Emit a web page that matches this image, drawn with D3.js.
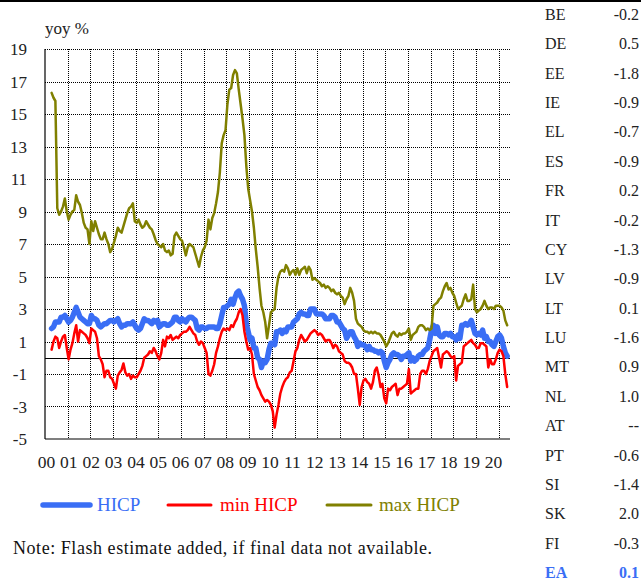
<!DOCTYPE html>
<html>
<head>
<meta charset="utf-8">
<script src="https://cdn.jsdelivr.net/npm/d3@7"></script>
<style>
  html, body { margin: 0; padding: 0; background: #fff; }
  svg { display: block; font-family: "Liberation Serif", "Times New Roman", serif; }
</style>
</head>
<body>
<svg id="chart" width="641" height="585"></svg>
<script>
// monthly yoy %, first observation April 2000, last May 2020
const startYear = 2000;
const startMonth = 4;

const hicp = [
  1.8, 1.9, 2.2, 2.2, 2.2, 2.5, 2.5, 2.6, 2.4,                 // 2000 (Apr-Dec)
  2.2, 2.3, 2.5, 2.8, 3.1, 2.8, 2.5, 2.4, 2.3, 2.2, 2.1, 2.1,  // 2001
  2.6, 2.4, 2.4, 2.3, 2.0, 1.9, 2.0, 2.1, 2.1, 2.2, 2.3, 2.3,  // 2002
  2.2, 2.3, 2.4, 2.1, 1.9, 2.0, 2.0, 2.1, 2.1, 2.1, 2.2, 2.0,  // 2003
  1.8, 1.7, 1.8, 2.1, 2.4, 2.3, 2.3, 2.2, 2.1, 2.3, 2.2, 2.3,  // 2004
  1.9, 2.0, 2.1, 2.1, 2.0, 2.0, 2.1, 2.2, 2.5, 2.5, 2.3, 2.2,  // 2005
  2.4, 2.3, 2.2, 2.4, 2.5, 2.5, 2.4, 2.3, 1.8, 1.7, 1.9, 1.9,  // 2006
  1.8, 1.8, 1.9, 1.9, 1.9, 1.9, 1.8, 1.8, 2.1, 2.6, 3.1, 3.1,  // 2007
  3.2, 3.3, 3.6, 3.3, 3.7, 4.0, 4.1, 3.8, 3.6, 3.2, 2.1, 1.6,  // 2008
  1.1, 1.2, 0.6, 0.6, 0.0, -0.1, -0.6, -0.2, -0.3, -0.1, 0.5, 0.9, // 2009
  0.9, 0.8, 1.6, 1.6, 1.7, 1.5, 1.7, 1.6, 1.9, 1.9, 1.9, 2.2,  // 2010
  2.3, 2.4, 2.7, 2.8, 2.7, 2.7, 2.6, 2.6, 3.0, 3.0, 3.0, 2.7,  // 2011
  2.7, 2.7, 2.7, 2.6, 2.4, 2.4, 2.4, 2.6, 2.6, 2.5, 2.2, 2.2,  // 2012
  2.0, 1.8, 1.7, 1.2, 1.4, 1.6, 1.6, 1.3, 1.1, 0.7, 0.9, 0.8,  // 2013
  0.8, 0.7, 0.5, 0.7, 0.5, 0.5, 0.4, 0.4, 0.3, 0.4, 0.3, -0.2, // 2014
  -0.6, -0.3, -0.1, 0.2, 0.3, 0.2, 0.2, 0.1, -0.1, 0.1, 0.1, 0.2, // 2015
  0.3, -0.2, 0.0, -0.2, -0.1, 0.1, 0.2, 0.2, 0.4, 0.5, 0.6, 1.1, // 2016
  1.7, 2.0, 1.5, 1.9, 1.4, 1.3, 1.3, 1.5, 1.5, 1.4, 1.5, 1.3,  // 2017
  1.3, 1.1, 1.4, 1.2, 2.0, 2.0, 2.1, 2.0, 2.1, 2.3, 1.9, 1.5,  // 2018
  1.4, 1.5, 1.4, 1.7, 1.2, 1.3, 1.0, 1.0, 0.8, 0.7, 1.0, 1.3,  // 2019
  1.4, 1.2, 0.7, 0.3, 0.1                                      // 2020 (Jan-May)
];

const minHicp = [
  0.5, 1.0, 1.3, 1.2, 0.6, 1.0, 1.3, 1.4, 0.6,
  -0.1, 0.5, 0.9, 1.5, 2.0, 1.0, 1.7, 1.6, 1.5, 1.4, 1.2, 0.9,
  1.8, 1.7, 1.6, 1.2, 0.1, -0.1, -0.4, -1.2, -0.8, -0.8, -1.2, -1.3,
  -1.6, -1.9, -1.1, -0.9, -0.75, -0.35, -0.9, -1.1, -1.0, -1.3, -1.1, -1.2,
  -1.2, -1.0, -0.8, -0.5, 0.0, 0.1, 0.2, 0.4, 0.3, 0.6, 0.4, 0.1,
  -0.1, 0.3, 1.1, 0.7, 1.3, 1.2, 1.4, 1.1, 1.2, 1.3, 1.2, 1.4,
  1.5, 1.6, 1.6, 1.7, 1.9, 1.7, 1.5, 1.4, 1.0, 0.8, 1.0, 0.9,
  0.6, 0.3, -1.0, -1.1, -0.8, -0.4, 0.3, 0.7, 1.2, 1.6, 1.8, 1.7,
  1.8, 1.7, 2.0, 1.9, 2.2, 2.4, 2.8, 3.0, 2.6, 1.6, 1.0, 0.5,
  0.6, 0.2, -1.0, -1.4, -1.8, -2.0, -2.3, -2.5, -2.7, -2.6, -2.7, -2.9,
  -3.3, -4.3, -3.5, -2.9, -2.2, -1.8, -1.5, -1.3, -1.2, -0.9, -0.8, -0.2,
  0.4, 0.6, 1.1, 1.4, 1.2, 1.0, 1.1, 1.3, 1.5, 1.6, 1.7, 1.6,
  1.4, 1.5, 1.4, 1.2, 1.0, 1.1, 1.1, 0.9, 0.6, 0.8, 0.7, 0.4,
  0.3, 0.2, -0.2, -0.3, -0.3, -0.4, -0.6, -1.0, -1.0, -1.9, -2.9, -1.8,
  -1.4, -1.3, -1.5, -1.6, -1.9, -1.5, -0.8, -0.6, -1.1, -1.8, -1.6, -2.5,
  -2.8, -1.9, -2.0, -1.8, -1.7, -1.6, -2.3, -1.9, -1.9, -1.8, -1.7, -1.6,
  -0.7, -2.2, -2.1, -2.0, -1.9, -1.9, -1.0, -0.8, -0.8, -1.0, -0.7, -0.2,
  0.1, 0.4, 0.5, 0.6, 0.0, -0.6, 0.2, 0.3, 0.4, 0.3, 0.1, 0.0,
  0.1, -1.4, -0.5, -0.4, -0.3, 0.7, 0.8, 0.9, 1.0, 1.1, 0.9, 0.8,
  0.6, 0.6, 0.9, 0.9, 0.8, 0.7, -0.6, -0.1, -0.4, -0.4, -0.1, 0.3,
  0.5, 0.4, 0.1, -1.0, -1.8
];

const maxHicp = [
  16.3, 16.0, 15.8, 9.2, 8.8, 9.0, 9.3, 9.8, 9.0,
  8.5, 8.8, 9.0, 9.1, 10.0, 9.6, 9.4, 8.9, 8.3, 8.0, 7.9, 7.0,
  8.4, 7.8, 8.4, 8.0, 7.6, 7.3, 7.3, 7.7, 7.3, 7.0, 6.5, 6.7,
  7.1, 7.5, 8.0, 7.8, 7.7, 8.1, 8.5, 8.9, 9.2, 9.3, 9.5, 8.4,
  8.3, 8.5, 8.2, 8.0, 8.1, 8.4, 8.2, 8.0, 7.9, 7.6, 7.25, 7.0,
  6.9, 6.8, 7.0, 6.6, 6.5, 6.6, 6.3, 6.4, 7.5, 7.7, 7.5, 7.3,
  7.2, 6.8, 6.3, 6.8, 7.0, 6.9, 6.8, 6.4, 6.0, 5.6, 6.2, 6.6,
  6.8, 7.2, 8.5, 7.9, 8.6, 8.9, 9.5, 10.2, 11.4, 13.2, 13.7, 14.0,
  15.6, 16.5, 16.6, 17.4, 17.7, 17.5, 16.5, 15.6, 14.7, 13.7, 11.8, 10.4,
  9.7, 9.0, 8.0, 6.7, 5.6, 4.3, 3.2, 2.8, 2.2, 1.2, 2.0, 2.8,
  2.9, 3.0, 4.3, 5.0, 5.3, 5.4, 5.3, 5.7, 5.5, 5.1, 5.3, 5.4,
  5.1, 5.5, 5.1, 5.4, 5.5, 5.6, 5.2, 5.6, 5.4, 4.8, 4.9, 4.8,
  4.7, 4.6, 4.4, 4.5, 4.3, 4.4, 4.3, 4.1, 4.2, 4.0, 3.9, 4.0,
  3.8, 3.7, 3.3, 3.6, 3.8, 4.3, 4.0, 3.5, 2.4, 2.1, 2.0, 1.9,
  1.7, 1.6, 1.6, 1.5, 1.6, 1.5, 1.6, 1.5, 1.5, 1.4, 1.2, 1.0,
  0.7, 0.9, 1.2, 1.5, 1.6, 1.4, 1.3, 1.5, 1.4, 1.5, 1.5, 1.6,
  1.8, 1.1, 1.4, 1.5, 1.6, 1.9, 2.0, 2.0, 1.9, 1.7, 1.8, 1.7,
  1.8, 3.2, 3.3, 3.4, 3.6, 3.7, 4.1, 4.4, 4.6, 4.2, 4.3, 4.0,
  3.8, 3.4, 3.0, 3.1, 3.2, 3.6, 3.9, 3.5, 3.5, 3.6, 4.5, 3.0,
  2.8, 2.9, 3.0, 3.2, 3.5, 3.2, 3.0, 3.1, 3.1, 3.0, 3.2, 3.2,
  3.2, 3.1, 2.9, 2.3, 2.0
];

const yTicks = [19, 17, 15, 13, 11, 9, 7, 5, 3, 1, -1, -3, -5];
const yearTicks = d3.range(2000, 2021);
const yearLabels = ['00', '01', '02', '03', '04', '05', '06', '07', '08', '09', '10',
                    '11', '12', '13', '14', '15', '16', '17', '18', '19', '20'];

const countries = ['BE', 'DE', 'EE', 'IE', 'EL', 'ES', 'FR', 'IT', 'CY', 'LV',
                   'LT', 'LU', 'MT', 'NL', 'AT', 'PT', 'SI', 'SK', 'FI', 'EA'];
const latestRates = ['-0.2', '0.5', '-1.8', '-0.9', '-0.7', '-0.9', '0.2', '-0.2', '-1.3', '-0.9',
                     '0.1', '-1.6', '0.9', '1.0', '--', '-0.6', '-1.4', '2.0', '-0.3', '0.1'];

const series = [
  { name: 'HICP', values: hicp, color: '#3a6ef5', width: 5.5 },
  { name: 'min HICP', values: minHicp, color: '#ff0000', width: 2.5 },
  { name: 'max HICP', values: maxHicp, color: '#808000', width: 2.5 }
];

const svg = d3.select('#chart');
const margin = { top: 49, left: 45, right: 131, bottom: 146 };
const W = 641, H = 585;

svg.append('rect').attr('width', W).attr('height', H).attr('fill', '#fff');
svg.append('line').attr('x1', 0).attr('x2', W).attr('y1', 1).attr('y2', 1)
  .attr('stroke', '#000').attr('stroke-width', 2);

const x = d3.scaleLinear().domain([2000, 2020.5]).range([margin.left, W - margin.right]);
const y = d3.scaleLinear().domain([-5, 19]).range([H - margin.bottom, margin.top]);
// year labels are spread slightly tighter than the gridlines
const xLabel = d3.scaleLinear().domain([2000, 2020]).range([46.5, 493.5]);

const monthPos = i => startYear + (startMonth - 1 + i + 0.5) / 12;

// grid
const grid = svg.append('g').attr('stroke', '#000').attr('stroke-width', 1)
  .attr('stroke-dasharray', '1,1');
grid.selectAll('.hg').data(yTicks.filter(d => d > -5)).join('line')
  .attr('x1', x(2000)).attr('x2', x.range()[1])
  .attr('y1', d => Math.round(y(d)) + 0.5).attr('y2', d => Math.round(y(d)) + 0.5);
grid.selectAll('.vg').data(yearTicks.slice(1)).join('line')
  .attr('x1', d => Math.round(x(d)) + 0.5).attr('x2', d => Math.round(x(d)) + 0.5)
  .attr('y1', y(19)).attr('y2', y(-5));

// axes lines
const ax = svg.append('g').attr('stroke', '#000').attr('stroke-width', 1.2);
ax.append('line').attr('x1', x(2000)).attr('x2', x(2000))
  .attr('y1', y(19)).attr('y2', y(-5));
ax.append('line').attr('x1', x(2000)).attr('x2', x.range()[1])
  .attr('y1', y(-5)).attr('y2', y(-5));
ax.append('line').attr('x1', x(2000)).attr('x2', x.range()[1])
  .attr('y1', Math.round(y(0)) + 0.5).attr('y2', Math.round(y(0)) + 0.5)
  .attr('stroke-width', 1);

// tick labels
svg.append('g').selectAll('text').data(yTicks).join('text')
  .attr('x', 27).attr('y', d => y(d) + 6)
  .attr('text-anchor', 'end').attr('font-size', 17).attr('fill', '#222')
  .text(d => d);

svg.append('g').selectAll('text').data(yearTicks).join('text')
  .attr('x', d => xLabel(d)).attr('y', 468)
  .attr('text-anchor', 'middle').attr('font-size', 17.5).attr('fill', '#222')
  .text((d, i) => yearLabels[i]);

svg.append('text').attr('x', 45).attr('y', 34).attr('font-size', 17).attr('fill', '#222')
  .text('yoy %');

// lines
const line = d3.line().x((d, i) => x(monthPos(i))).y(d => y(d));
svg.append('g').selectAll('path').data(series).join('path')
  .attr('fill', 'none')
  .attr('stroke', d => d.color)
  .attr('stroke-width', d => d.width)
  .attr('stroke-linejoin', 'round')
  .attr('stroke-linecap', 'round')
  .attr('d', d => line(d.values));

// legend
const legendPos = [{ x1: 41, x2: 92, tx: 97 }, { x1: 166, x2: 213, tx: 220 }, { x1: 325, x2: 373, tx: 379 }];
const lg = svg.append('g');
series.forEach((s, i) => {
  const p = legendPos[i];
  lg.append('line').attr('x1', p.x1 + 2).attr('x2', p.x2 - 2).attr('y1', 505).attr('y2', 505)
    .attr('stroke', s.color).attr('stroke-width', i === 0 ? 5.5 : 3).attr('stroke-linecap', 'round');
  lg.append('text').attr('x', p.tx).attr('y', 511).attr('font-size', 19).attr('fill', s.color)
    .text(s.name);
});

svg.append('text').attr('x', 13).attr('y', 554).attr('font-size', 18)
  .attr('letter-spacing', 0.55).attr('fill', '#111')
  .text('Note: Flash estimate added, if final data not available.');

// latest rates table
const rowY = i => 20 + i * 29.37;
const tbl = svg.append('g').attr('font-size', 16);
tbl.selectAll('.c').data(countries).join('text')
  .attr('x', 545).attr('y', (d, i) => rowY(i))
  .attr('fill', d => d === 'EA' ? '#3a6ef5' : '#222')
  .attr('font-weight', d => d === 'EA' ? 'bold' : 'normal')
  .text(d => d);
tbl.selectAll('.v').data(latestRates).join('text')
  .attr('x', 639).attr('y', (d, i) => rowY(i))
  .attr('text-anchor', 'end')
  .attr('fill', (d, i) => countries[i] === 'EA' ? '#3a6ef5' : '#222')
  .attr('font-weight', (d, i) => countries[i] === 'EA' ? 'bold' : 'normal')
  .text(d => d);
</script>
</body>
</html>
